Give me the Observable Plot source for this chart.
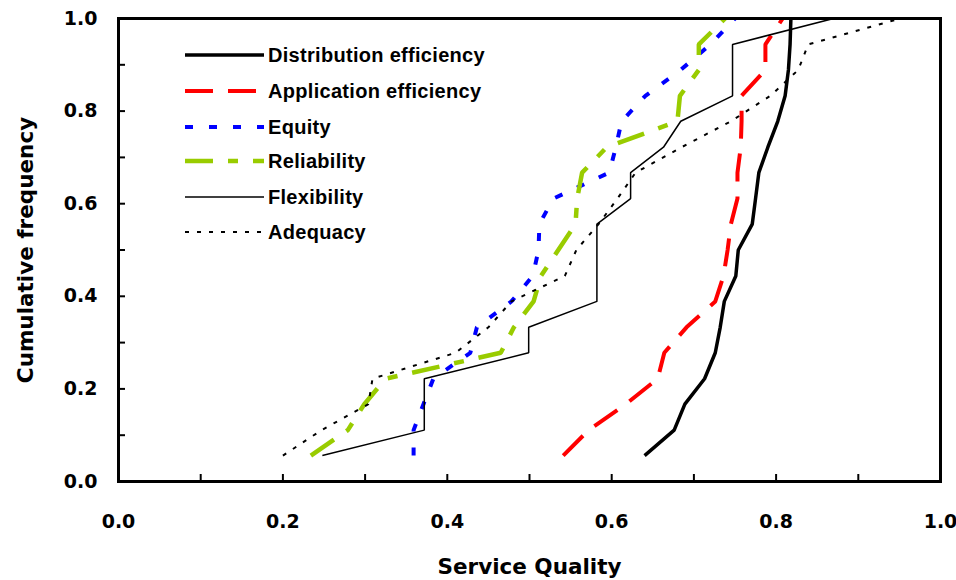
<!DOCTYPE html>
<html>
<head>
<meta charset="utf-8">
<script src="https://cdn.jsdelivr.net/npm/d3@7"></script>
<script src="https://cdn.jsdelivr.net/npm/@observablehq/plot@0.6"></script>
<style>
  html, body { margin: 0; padding: 0; background: #fff; }
  #wrap { position: relative; width: 956px; height: 580px; }
  #legend { position: absolute; left: 0; top: 0; pointer-events: none; }
</style>
</head>
<body>
<div id="wrap"></div>
<script>
// ---- data ----
const cumFreq = [0.056, 0.111, 0.167, 0.222, 0.278, 0.333, 0.389, 0.444, 0.500,
                 0.556, 0.611, 0.667, 0.722, 0.778, 0.833, 0.889, 0.944, 1.000];

const distributionEfficiency = [0.640, 0.676, 0.689, 0.713, 0.726, 0.732, 0.737, 0.751, 0.754,
                                0.771, 0.775, 0.779, 0.790, 0.802, 0.811, 0.815, 0.817, 0.818];
const applicationEfficiency  = [0.541, 0.572, 0.617, 0.656, 0.664, 0.691, 0.726, 0.736, 0.741,
                                0.745, 0.753, 0.753, 0.757, 0.758, 0.758, 0.787, 0.787, 0.808];
const equity                 = [0.359, 0.359, 0.371, 0.383, 0.428, 0.436, 0.478, 0.504, 0.511,
                                0.512, 0.529, 0.597, 0.605, 0.612, 0.641, 0.684, 0.720, 0.750];
const reliability            = [0.234, 0.279, 0.299, 0.325, 0.465, 0.481, 0.505, 0.514, 0.535,
                                0.556, 0.558, 0.564, 0.594, 0.680, 0.683, 0.706, 0.706, 0.738];
const flexibility            = [0.248, 0.372, 0.372, 0.372, 0.499, 0.499, 0.582, 0.582, 0.582,
                                0.582, 0.623, 0.623, 0.663, 0.684, 0.747, 0.747, 0.747, 0.870];
const adequacy               = [0.200, 0.247, 0.304, 0.309, 0.410, 0.450, 0.478, 0.543, 0.557,
                                0.584, 0.607, 0.629, 0.685, 0.745, 0.793, 0.827, 0.839, 0.951];

const seriesNames = ["Distribution efficiency", "Application efficiency", "Equity",
                     "Reliability", "Flexibility", "Adequacy"];
const seriesValues = [distributionEfficiency, applicationEfficiency, equity,
                      reliability, flexibility, adequacy];

const xTickLabels = [0, 0.2, 0.4, 0.6, 0.8, 1.0];
const xMinorTicks = [0.1, 0.2, 0.3, 0.4, 0.5, 0.6, 0.7, 0.8, 0.9];
const yTickLabels = [0, 0.2, 0.4, 0.6, 0.8, 1.0];
const yMinorTicks = [0.1, 0.2, 0.3, 0.4, 0.5, 0.6, 0.7, 0.8, 0.9];
const xTitle = "Service Quality";
const yTitle = "Cumulative frequency";

// ---- styles ----
const styles = [
  {stroke: "#000000", strokeWidth: 3.5, dash: null},
  {stroke: "#FF0000", strokeWidth: 4,   dash: "28,15"},
  {stroke: "#0000FF", strokeWidth: 4,   dash: "8,16"},
  {stroke: "#99CC00", strokeWidth: 4.5, dash: "28,15,10,15"},
  {stroke: "#000000", strokeWidth: 1.5, dash: null},
  {stroke: "#000000", strokeWidth: 2,   dash: "4,8"}
];

const W = 956, H = 580;
const mL = 118, mR = 16, mT = 18, mB = 99;
const innerW = W - mL - mR, innerH = H - mT - mB;

const lineMarks = seriesValues.map((vals, k) => {
  const rows = cumFreq.map((f, i) => ({x: vals[i], y: f}));
  const s = styles[k];
  const opts = {x: "x", y: "y", stroke: s.stroke, strokeWidth: s.strokeWidth,
                strokeLinecap: "butt", strokeLinejoin: "miter"};
  if (s.dash) opts.strokeDasharray = s.dash;
  return Plot.line(rows, opts);
});

const chart = Plot.plot({
  width: W, height: H,
  marginLeft: mL, marginRight: mR, marginTop: mT, marginBottom: mB,
  x: {domain: [0, 1]},
  y: {domain: [0, 1]},
  style: {fontFamily: "'DejaVu Sans', sans-serif", fontWeight: "bold", background: "#fff", color: "#000", overflow: "visible"},
  marks: [
    Plot.ruleX(xMinorTicks, {x: d => d, insetTop: innerH - 7, stroke: "#000", strokeWidth: 2}),
    Plot.ruleY(yMinorTicks, {y: d => d, insetRight: innerW - 7, stroke: "#000", strokeWidth: 2}),
    Plot.axisX({ticks: xTickLabels, tickSize: 0, tickPadding: 33, fontSize: 19, fill: "#000",
                tickFormat: d3.format(".1f"), label: null}),
    Plot.axisY({ticks: yTickLabels, tickSize: 0, tickPadding: 21, fontSize: 19, fill: "#000",
                tickFormat: d3.format(".1f"), label: null}),
    ...lineMarks,
    Plot.frame({stroke: "#000", strokeWidth: 3}),
    Plot.text([xTitle], {text: d => d, frameAnchor: "bottom", dy: 86, lineAnchor: "middle",
                         textAnchor: "middle", fontSize: 21.5, fill: "#000"}),
    Plot.text([yTitle], {text: d => d, frameAnchor: "left", dx: -92, rotate: -90,
                         textAnchor: "middle", lineAnchor: "middle", fontSize: 21.5, fill: "#000"})
  ]
});

const wrap = document.getElementById("wrap");
wrap.appendChild(chart);

// ---- legend overlay ----
const legendRowY = [55, 91, 127, 161, 197, 232];
const leg = d3.select(wrap).append("svg")
  .attr("id", "legend").attr("width", W).attr("height", H);
seriesNames.forEach((name, k) => {
  const s = styles[k];
  const g = leg.append("g").attr("transform", `translate(0,${legendRowY[k]})`);
  const ln = g.append("line").attr("x1", 185).attr("x2", 264).attr("y1", 0).attr("y2", 0)
    .attr("stroke", s.stroke).attr("stroke-width", s.strokeWidth).attr("stroke-linecap", "butt");
  if (s.dash) ln.attr("stroke-dasharray", s.dash);
  g.append("text").attr("x", 268).attr("y", 0).attr("dy", "0.35em")
    .attr("font-family", "'Liberation Sans', Arial, sans-serif")
    .attr("font-weight", "bold").attr("font-size", 20).attr("letter-spacing", 0.3)
    .attr("fill", "#000").text(name);
});
</script>
</body>
</html>
